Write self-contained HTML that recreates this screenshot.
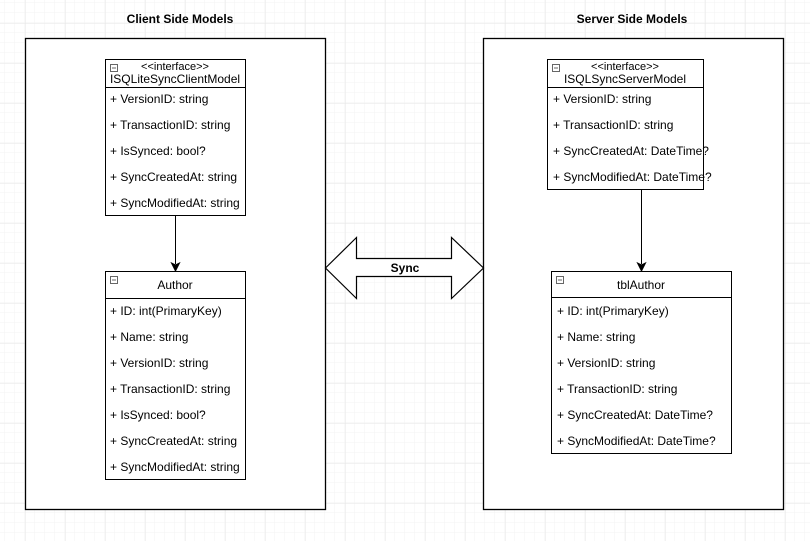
<!DOCTYPE html>
<html><head><meta charset="utf-8"><style>
html,body{margin:0;padding:0;background:#fff;}
svg{display:block;}
text{font-family:"Liberation Sans",Arial,sans-serif;fill:#000;}
.r{font-size:12px;}
</style></head><body>
<svg width="810" height="541" xmlns="http://www.w3.org/2000/svg">
<defs>
<pattern id="mn" width="10" height="10" patternUnits="userSpaceOnUse" x="5" y="3">
<path d="M10 0V10M0 10H10" stroke="#f3f3f3" stroke-width="1" fill="none"/></pattern>
<pattern id="mj" width="40" height="40" patternUnits="userSpaceOnUse" x="25.5" y="23.5">
<path d="M0 0V40M0 0H40" stroke="#e6e6e6" stroke-width="1" fill="none"/></pattern>
</defs>
<rect width="810" height="541" fill="url(#mn)"/>
<rect width="810" height="541" fill="url(#mj)"/>

<text x="180" y="23" font-size="12" font-weight="bold" text-anchor="middle">Client Side Models</text>
<text x="632" y="23" font-size="12" font-weight="bold" text-anchor="middle">Server Side Models</text>

<rect x="25.5" y="38.5" width="300" height="471" fill="#fff" stroke="#000" stroke-width="1.3"/>
<rect x="483.5" y="38.5" width="300" height="471" fill="#fff" stroke="#000" stroke-width="1.3"/>

<!-- Client interface -->
<rect x="105.5" y="59.5" width="140" height="156" fill="#fff" stroke="#000"/>
<line x1="105.5" y1="87.5" x2="245.5" y2="87.5" stroke="#000"/>
<rect x="110.5" y="64.5" width="7" height="7" fill="#fff" stroke="#666"/><line x1="112" y1="68" x2="116" y2="68" stroke="#666"/>
<text x="175" y="70" font-size="11" text-anchor="middle">&lt;&lt;interface&gt;&gt;</text>
<text x="175" y="83" class="r" text-anchor="middle">ISQLiteSyncClientModel</text>
<text x="110" y="103" class="r">+ VersionID: string</text>
<text x="110" y="129" class="r">+ TransactionID: string</text>
<text x="110" y="155" class="r">+ IsSynced: bool?</text>
<text x="110" y="181" class="r">+ SyncCreatedAt: string</text>
<text x="110" y="207" class="r">+ SyncModifiedAt: string</text>

<line x1="175.5" y1="215" x2="175.5" y2="264" stroke="#000"/>
<path d="M171.5 263 L175.5 271 L179.5 263 L175.5 265 Z" fill="#000" stroke="#000"/>

<!-- Author -->
<rect x="105.5" y="271.5" width="140" height="208" fill="#fff" stroke="#000"/>
<line x1="105.5" y1="298.5" x2="245.5" y2="298.5" stroke="#000"/>
<rect x="110.5" y="276.5" width="7" height="7" fill="#fff" stroke="#666"/><line x1="112" y1="280" x2="116" y2="280" stroke="#666"/>
<text x="175" y="289" class="r" text-anchor="middle">Author</text>
<text x="110" y="315" class="r">+ ID: int(PrimaryKey)</text>
<text x="110" y="341" class="r">+ Name: string</text>
<text x="110" y="367" class="r">+ VersionID: string</text>
<text x="110" y="393" class="r">+ TransactionID: string</text>
<text x="110" y="419" class="r">+ IsSynced: bool?</text>
<text x="110" y="445" class="r">+ SyncCreatedAt: string</text>
<text x="110" y="471" class="r">+ SyncModifiedAt: string</text>

<!-- Server interface -->
<rect x="547.5" y="59.5" width="156" height="130" fill="#fff" stroke="#000"/>
<line x1="547.5" y1="87.5" x2="703.5" y2="87.5" stroke="#000"/>
<rect x="552.5" y="64.5" width="7" height="7" fill="#fff" stroke="#666"/><line x1="554" y1="68" x2="558" y2="68" stroke="#666"/>
<text x="625" y="70" font-size="11" text-anchor="middle">&lt;&lt;interface&gt;&gt;</text>
<text x="625" y="83" class="r" text-anchor="middle">ISQLSyncServerModel</text>
<text x="553" y="103" class="r">+ VersionID: string</text>
<text x="553" y="129" class="r">+ TransactionID: string</text>
<text x="553" y="155" class="r">+ SyncCreatedAt: DateTime?</text>
<text x="553" y="181" class="r">+ SyncModifiedAt: DateTime?</text>

<line x1="641.5" y1="189" x2="641.5" y2="264" stroke="#000"/>
<path d="M637.5 263 L641.5 271 L645.5 263 L641.5 265 Z" fill="#000" stroke="#000"/>

<!-- tblAuthor -->
<rect x="551.5" y="271.5" width="180" height="182" fill="#fff" stroke="#000"/>
<line x1="551.5" y1="297.5" x2="731.5" y2="297.5" stroke="#000"/>
<rect x="556.5" y="276.5" width="7" height="7" fill="#fff" stroke="#666"/><line x1="558" y1="280" x2="562" y2="280" stroke="#666"/>
<text x="641" y="289" class="r" text-anchor="middle">tblAuthor</text>
<text x="557" y="315" class="r">+ ID: int(PrimaryKey)</text>
<text x="557" y="341" class="r">+ Name: string</text>
<text x="557" y="367" class="r">+ VersionID: string</text>
<text x="557" y="393" class="r">+ TransactionID: string</text>
<text x="557" y="419" class="r">+ SyncCreatedAt: DateTime?</text>
<text x="557" y="445" class="r">+ SyncModifiedAt: DateTime?</text>

<!-- Sync arrow -->
<path d="M325.5 268 L356.5 237.5 L356.5 258.5 L451.5 258.5 L451.5 237.5 L483.5 268 L451.5 298.5 L451.5 276.5 L356.5 276.5 L356.5 298.5 Z" fill="#fff" stroke="#000" stroke-width="1.2"/>
<text x="405" y="272" font-size="12" font-weight="bold" text-anchor="middle">Sync</text>
</svg>
</body></html>
